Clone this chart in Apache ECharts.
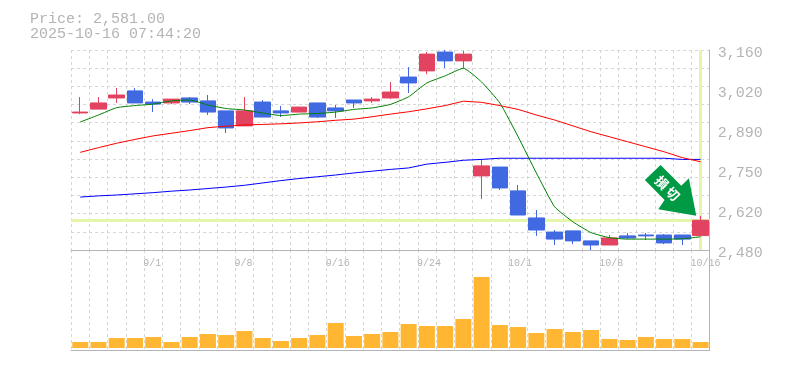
<!DOCTYPE html>
<html><head><meta charset="utf-8">
<style>html,body{margin:0;padding:0;background:#fff}#c{width:785px;height:370px}</style>
<script src="https://cdn.jsdelivr.net/npm/echarts@6/dist/echarts.min.js"></script>
</head><body><div id="c"></div>
<script>
const categories = ['8/26','8/27','8/28','8/29','9/1','9/2','9/3','9/4','9/5','9/8','9/9','9/10','9/11','9/12','9/16','9/17','9/18','9/19','9/22','9/24','9/25','9/26','9/29','9/30','10/1','10/2','10/3','10/6','10/7','10/8','10/9','10/10','10/14','10/15','10/16'];
const labelledDates = ['9/1','9/8','9/16','9/24','10/1','10/8','10/16'];
const opens  = [2946,2959,2997,3021,2983,2980,2997,2987,2953,2902,2983,2953,2949,2980,2963,2990,2987,2997,3068,3089,3153,3123,2732,2762,2681,2589,2541,2545,2511,2497,2528,2531,2531,2531,2529];
const closes = [2949,2980,3007,2980,2976,2993,2983,2949,2895,2953,2932,2946,2966,2932,2953,2980,2993,3017,3048,3146,3123,3146,2766,2691,2599,2548,2517,2511,2497,2521,2521,2528,2504,2517,2581];
const lows   = [2942,2959,2980,2980,2949,2976,2976,2939,2878,2902,2932,2932,2949,2929,2929,2963,2980,2993,3014,3078,3099,3099,2653,2684,2599,2528,2497,2500,2480,2497,2517,2514,2500,2497,2529];
const highs  = [3000,3000,3031,3031,2993,2993,3000,3007,2953,3000,2990,2970,2966,2980,2973,2990,3000,3051,3102,3153,3160,3157,2789,2762,2701,2616,2548,2545,2511,2531,2538,2538,2534,2531,2596];
const maShort = [2915,2939,2964,2971,2976,2987,2990,2973,2961,2956,2946,2937,2942,2944,2949,2958,2963,2975,3001,3048,3072,3098,3051,2980,2865,2742,2627,2576,2539,2522,2517,2517,2517,2518,2525];
const maMid = [2812,2828,2843,2856,2868,2877,2886,2896,2901,2905,2907,2909,2912,2916,2921,2925,2933,2942,2950,2960,2971,2986,2982,2971,2958,2939,2922,2902,2882,2865,2848,2831,2814,2794,2780];
const maLong = [2660,2664,2667,2671,2675,2680,2684,2689,2694,2700,2708,2716,2723,2729,2735,2742,2748,2754,2759,2772,2778,2785,2788,2792,2792,2792,2792,2792,2792,2792,2792,2792,2792,2788,2788];
const volumes = [60,60,100,100,110,60,110,140,130,170,100,70,100,130,250,120,140,160,240,220,220,290,710,230,210,150,190,160,180,90,80,110,90,90,60];
const priceLabels = [2480,2616,2752,2888,3024,3160];
const gridPrices = [2480,2541.8,2603.6,2665.5,2727.3,2789.1,2850.9,2912.7,2974.5,3036.4,3098.2,3160];
const lastPrice = 2581;

const gray = '#b4b4b4', gridCol = '#d6d6d6', up = '#e24360', down = '#4169e1';
const mono = '"Liberation Mono", monospace';
const candles = categories.map((_, i) => [opens[i], closes[i], lows[i], highs[i]]);
const dashed = {show:true, interval:0, lineStyle:{color:gridCol, type:[3,3], width:1}};
const lastCat = categories[categories.length-1];
const arrow = 'path://M15.7 0L0 15L19.7 35L13.4 44.3L51.4 50.7L44 13.3L36.4 20.7Z';

const chart = echarts.init(document.getElementById('c'), null, {renderer:'canvas'});
chart.setOption({
  animation:false,
  backgroundColor:'#fff',
  title:{text:'Price: 2,581.00\n2025-10-16 07:44:20', left:25, top:7,
    textStyle:{fontFamily:mono, fontSize:15, lineHeight:15, color:gray, fontWeight:'normal'}},
  grid:[{left:71.1, top:50, width:638.6, height:200},{left:71.1, top:250, width:638.6, height:100}],
  xAxis:[
    {type:'category', data:categories, gridIndex:0, boundaryGap:true,
     axisLine:{show:true, onZero:false, lineStyle:{color:gray, width:1}}, axisTick:{show:false},
     splitLine:dashed,
     axisLabel:{color:gray, fontFamily:mono, fontSize:10, margin:8, align:'left', padding:[0,0,0,-10],
       interval:(i,v)=>labelledDates.includes(v)}},
    {type:'category', data:categories, gridIndex:1, boundaryGap:true,
     axisLine:{show:true, onZero:false, lineStyle:{color:gray, width:1}}, axisTick:{show:false},
     splitLine:dashed, axisLabel:{show:false}}
  ],
  yAxis:[
    {type:'value', gridIndex:0, position:'right', min:2480, max:3160, scale:true,
     axisLine:{show:true, lineStyle:{color:gray, width:1}},
     axisTick:{show:false, customValues:gridPrices},
     splitLine:{show:true, lineStyle:{color:gridCol, type:[3,3], width:1}},
     axisLabel:{customValues:priceLabels, color:gray, fontFamily:mono, fontSize:15, margin:8,
       verticalAlign:'top', lineHeight:6,
       formatter:v=>(Math.round(v/10)*10).toLocaleString('en-US')}},
    {type:'value', gridIndex:1, position:'right', min:-20, max:980,
     axisLine:{show:true, lineStyle:{color:gray, width:1}}, axisTick:{show:false},
     splitLine:{show:false}, axisLabel:{show:false}}
  ],
  series:[
    {type:'line', xAxisIndex:0, yAxisIndex:0, data:[], z:1, silent:true,
     markLine:{silent:true, symbol:'none', z:1, label:{show:false}, animation:false,
       lineStyle:{color:'#e5f5a9', width:3, type:'solid'},
       data:[{yAxis:lastPrice},{xAxis:lastCat}]}},
    {type:'candlestick', xAxisIndex:0, yAxisIndex:0, data:candles, barWidth:16, z:3,
     itemStyle:{color:up, color0:down, borderColor:up, borderColor0:down, borderWidth:1},
     markPoint:{silent:true, z:6, data:[{coord:[lastCat,lastPrice], symbol:arrow, symbolSize:[51.4,50.7],
        symbolKeepAspect:false, symbolOffset:[-30,-30], itemStyle:{color:'#009944'},
        label:{show:true, position:'inside', formatter:'損\u2009切', rotate:-45, offset:[-3.8,0.9], color:'#fff',
          fontFamily:'"Noto Sans CJK JP"', fontWeight:'bold', fontSize:13}}]}},
    {type:'line', xAxisIndex:0, yAxisIndex:0, data:maLong, symbol:'none', z:4, lineStyle:{color:'#0000ff', width:1}},
    {type:'line', xAxisIndex:0, yAxisIndex:0, data:maMid, symbol:'none', z:4, lineStyle:{color:'#ff0000', width:1}},
    {type:'line', xAxisIndex:0, yAxisIndex:0, data:maShort, symbol:'none', z:4, smooth:0.15, lineStyle:{color:'#008000', width:1}},
    {type:'bar', xAxisIndex:1, yAxisIndex:1, data:volumes, barWidth:16, itemStyle:{color:'#ffb733'}, z:3}
  ]
});
</script></body></html>
